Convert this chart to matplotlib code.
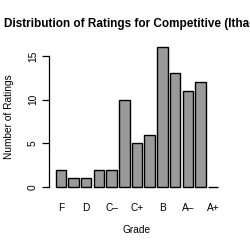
import matplotlib
matplotlib.use("Agg")
import matplotlib.pyplot as plt

grades = ["F", "D-", "D", "D+", "C-", "C", "C+", "B-", "B", "B+", "A-", "A", "A+"]
counts = [2, 1, 1, 2, 2, 10, 5, 6, 16, 13, 11, 12, 0]
tick_labels = ["F", "", "D", "", "C\u2013", "", "C+", "", "B", "", "A\u2013", "", "A+"]
yticks = [0, 5, 10, 15]
title = "Distribution of Ratings for Competitive (Ithaca)"

plt.rcParams['font.family'] = ['Liberation Sans', 'DejaVu Sans']

fig = plt.figure(figsize=(2.5, 2.5), dpi=100)
ax = fig.add_axes([49/250, 1 - 192.6/250, (225 - 49)/250, (192.6 - 41.7)/250])

centers = [0.7 + 1.2 * i for i in range(len(counts))]
ax.bar(centers, counts, width=1.0, color="#9a9a9a", edgecolor="black", linewidth=1.0)
ax.set_xlim(-0.416, 16.216)
ax.set_ylim(-0.64, 16.64)

for s in ["top", "right", "bottom"]:
    ax.spines[s].set_visible(False)
ax.spines["left"].set_bounds(0, 15)
ax.spines["left"].set_linewidth(0.9)

ax.set_yticks(yticks)
ax.set_yticklabels([str(v) for v in yticks], rotation=90, va="center", fontsize=7.3)
ax.tick_params(axis="y", length=5, width=0.9, pad=3)

ax.set_xticks([c for c, l in zip(centers, tick_labels) if l])
ax.set_xticklabels([l for l in tick_labels if l], fontsize=7.3)
ax.tick_params(axis="x", length=0, pad=7.5)

fig.text(137/250, 1 - 230/250, "Grade", ha="center", va="center", fontsize=7.3)
fig.text(9/250, 1 - 117/250, "Number of Ratings", ha="center", va="center", rotation=90, fontsize=7.3)
fig.text(4/250, 1 - 24/250, title, ha="left", va="center", fontsize=8.5, fontweight="bold")

fig.savefig("out.png", dpi=100)
